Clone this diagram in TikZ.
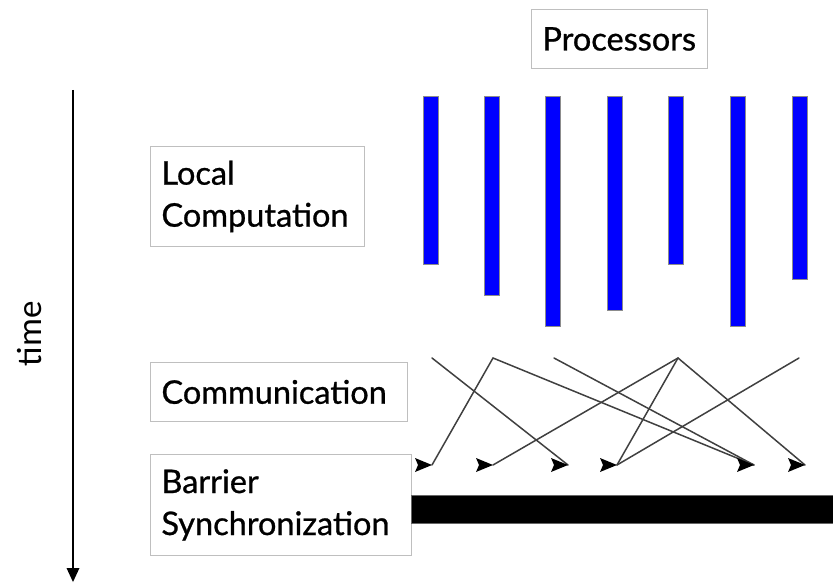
\documentclass[tikz,border=0pt]{standalone}
\usepackage{fontspec}
\newfontfamily\boxfont[FakeBold=0.8]{Lato}
\newfontfamily\timefont{Carlito}
\begin{document}
\begin{tikzpicture}[x=1pt, y=-1pt,
      labelbox/.style={draw=black!25, fill=white, line width=0.9pt, inner xsep=11pt, inner ysep=0pt,
                       align=left, anchor=north west, font=\boxfont\fontsize{32.5}{42}\selectfont},
      procbar/.style={draw=black!45, fill=blue, line width=0.5pt},
      wire/.style={draw=black!75, line width=1.5pt, line cap=round},
      tip/.style={fill=black}]
      \useasboundingbox (0,0) rectangle (833,583);

      % time axis
      \coordinate (T0) at (73,90);
      \coordinate (T1) at (73,568);
      \draw [line width=2pt] (T0) -- (T1);
      \fill (T1) -- ++(-6.5,0) -- ++(6.5,14) -- ++(6.5,-14) -- cycle;
      \path (30,334) node[rotate=90, font=\timefont\fontsize{35}{35}\selectfont] (time) {time};

      % labels
      \node[labelbox, minimum height=59pt] (proc) at (531,9) {Processors};
      \node[labelbox, text width=192pt, minimum height=100pt] (local) at (150,146) {Local\\Computation};
      \node[labelbox, text width=235pt, minimum height=59pt] (comm) at (150,362) {Communication};
      \node[labelbox, text width=239pt, minimum height=101pt] (barrier) at (150,454) {Barrier\\Synchronization};

      % local computation
      \foreach \x/\b in {430.5/264, 491.5/295, 553/326, 614.5/310, 676/264, 737.5/326, 799.5/279}
            \draw [procbar] (\x-7.5,96) rectangle (\x+7.5,\b);

      % communication
      \foreach \n/\x in {1/432, 2/493, 3/554, 4/678, 5/799}
            \coordinate (s\n) at (\x,358);
      \foreach \n/\x in {1/432, 2/493, 3/568, 4/617, 5/754, 6/805}
            \coordinate (t\n) at (\x,465);

      \draw [wire] (s1) -- (t3);
      \draw [wire] (t1) -- (s2) -- (t5);
      \draw [wire] (s3) -- (t5);
      \draw [wire] (t2) -- (s4) -- (t6);
      \draw [wire] (s4) -- (t4);
      \draw [wire] (s5) -- (t4);
      \foreach \n in {1,...,6}
            \fill [tip] (t\n) -- ++(-17,-7) -- ++(3,7) -- ++(-3,7) -- cycle;

      % barrier
      \draw [fill=black, draw=black!60, line width=0.6pt] (411,495) rectangle (834,523);
\end{tikzpicture}
\end{document}
